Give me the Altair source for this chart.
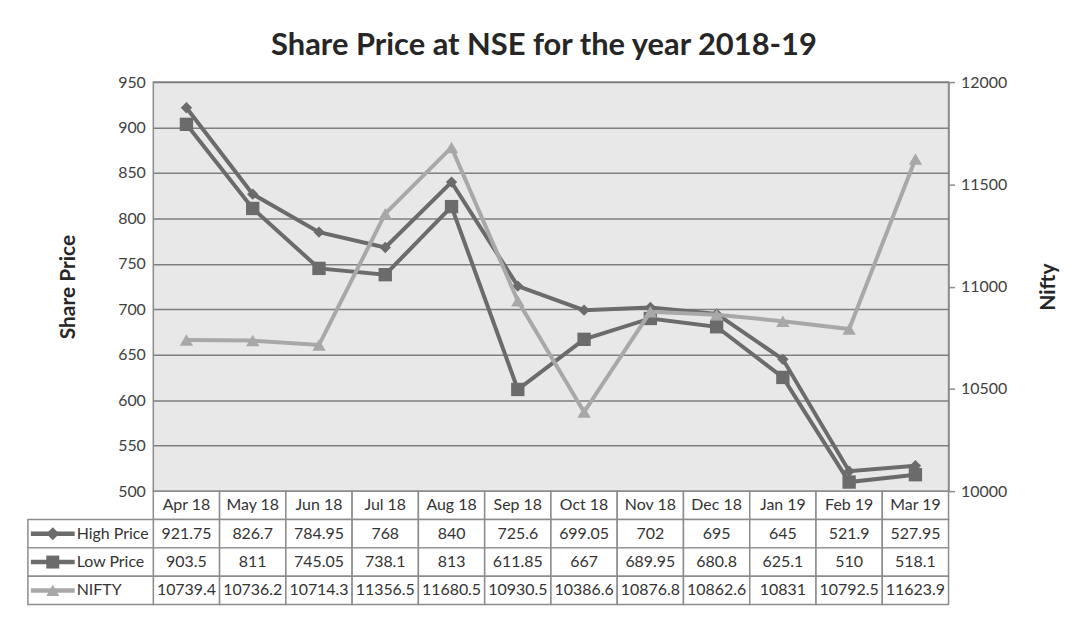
import altair as alt
import pandas as pd

months = ["Apr 18", "May 18", "Jun 18", "Jul 18", "Aug 18", "Sep 18",
          "Oct 18", "Nov 18", "Dec 18", "Jan 19", "Feb 19", "Mar 19"]
high = [921.75, 826.7, 784.95, 768, 840, 725.6, 699.05, 702, 695, 645, 521.9, 527.95]
low = [903.5, 811, 745.05, 738.1, 813, 611.85, 667, 689.95, 680.8, 625.1, 510, 518.1]
nifty = [10739.4, 10736.2, 10714.3, 11356.5, 11680.5, 10930.5, 10386.6,
         10876.8, 10862.6, 10831, 10792.5, 11623.9]
series = ["High Price", "Low Price", "NIFTY"]
colors = ["#6b6b6b", "#6b6b6b", "#a8a8a8"]
shapes = ["diamond", "square", "triangle-up"]
left_ticks = [500, 550, 600, 650, 700, 750, 800, 850, 900, 950]
right_ticks = [10000, 10500, 11000, 11500, 12000]

FONT = "Lato"
W, H = 799, 411

df = pd.DataFrame({"Month": months, "High": high, "Low": low, "Nifty": nifty})

x_top = alt.X("Month:N", sort=months, axis=None,
              scale=alt.Scale(type="point", domain=months, padding=0.5))
yl = alt.Scale(domain=[500, 950], nice=False, zero=False)
yr = alt.Scale(domain=[10000, 12000], nice=False, zero=False)

left_axis = alt.Axis(title="Share Price", values=left_ticks, grid=True,
                     gridColor="#7f7f7f", gridWidth=1.5, ticks=False, domain=False,
                     labelPadding=8, labelFontSize=16, labelFont=FONT, labelColor="#404040",
                     titleFont=FONT, titleFontSize=21, titleFontWeight="bold",
                     titleColor="#262626", titlePadding=39)
right_axis = alt.Axis(title="Nifty", orient="right", values=right_ticks, grid=False,
                      format="d", ticks=True, tickSize=6, tickColor="#8c8c8c", tickWidth=1.5,
                      domain=True, domainColor="#8c8c8c", domainWidth=1.5,
                      labelPadding=6, labelFontSize=16, labelFont=FONT, labelColor="#404040",
                      titleFont=FONT, titleFontSize=21, titleFontWeight="bold",
                      titleColor="#262626", titlePadding=52, titleAngle=270)


def line(field, idx, scale, axis):
    return alt.Chart(df).mark_line(
        color=colors[idx], strokeWidth=4,
        point=alt.OverlayMarkDef(shape=shapes[idx], filled=True, color=colors[idx],
                                 opacity=1, size=[130, 180, 180][idx])
    ).encode(x=x_top, y=alt.Y(f"{field}:Q", scale=scale, axis=axis))


left_layer = alt.layer(line("High", 0, yl, left_axis), line("Low", 1, yl, left_axis))
top = alt.layer(left_layer, line("Nifty", 2, yr, right_axis)).resolve_scale(
    y="independent").properties(
    width=W, height=H,
    view=alt.ViewBackground(fill="#e8e8e8", stroke="#8c8c8c", strokeWidth=1.5),
    title=alt.TitleParams("Share Price at NSE for the year 2018-19", fontSize=31,
                          font=FONT, fontWeight="bold", color="#262626",
                          anchor="middle", dx=-7, offset=12))

# ---- data table ----
rows = ["header"] + series


def fmt(v):
    return f"{v:g}"


recs = []
for i, m in enumerate(months):
    recs.append({"Row": "header", "Month": m, "Text": m})
    recs.append({"Row": "High Price", "Month": m, "Text": fmt(high[i])})
    recs.append({"Row": "Low Price", "Month": m, "Text": fmt(low[i])})
    recs.append({"Row": "NIFTY", "Month": m, "Text": fmt(nifty[i])})
tab = pd.DataFrame(recs)
leg = pd.DataFrame({"Row": series})

xb = alt.X("Month:N", sort=months, axis=None,
           scale=alt.Scale(type="band", domain=months, paddingInner=0, paddingOuter=0))
yb = alt.Y("Row:N", sort=rows, axis=None,
           scale=alt.Scale(type="band", domain=rows, paddingInner=0, paddingOuter=0))
cstroke = "#8c8c8c"

cells = alt.Chart(tab).mark_rect(fill="white", stroke=cstroke, strokeWidth=1.5).encode(x=xb, y=yb)
texts = alt.Chart(tab).mark_text(fontSize=16, font=FONT, color="#333333").encode(
    x=xb, y=yb, text="Text:N")
leg_cells = alt.Chart(leg).mark_rect(fill="white", stroke=cstroke, strokeWidth=1.5).encode(
    x=alt.value(-126), x2=alt.value(0), y=yb)
col = alt.Color("Row:N", scale=alt.Scale(domain=series, range=colors), legend=None)
leg_rules = alt.Chart(leg).mark_rule(strokeWidth=4.5).encode(
    x=alt.value(-123), x2=alt.value(-79), y=yb, color=col)
leg_pts = alt.Chart(leg).mark_point(filled=True, opacity=1, size=170).encode(
    x=alt.value(-101), y=yb, color=col,
    shape=alt.Shape("Row:N", scale=alt.Scale(domain=series, range=shapes), legend=None))
leg_txt = alt.Chart(leg).mark_text(align="left", fontSize=16, font=FONT, color="#333333").encode(
    x=alt.value(-77), y=yb, text="Row:N")

table = alt.layer(cells, texts, leg_cells, leg_rules, leg_pts, leg_txt).properties(
    width=W, height=114, view=alt.ViewBackground(stroke=None))

chart = alt.vconcat(top, table, spacing=0, bounds="flush").resolve_scale(
    color="independent", shape="independent").properties(
    padding={"left": 19, "top": 20, "right": 5, "bottom": 5}
).configure_view(stroke=None)

chart.save("out.html", embed_options={"renderer": "svg", "actions": False})
